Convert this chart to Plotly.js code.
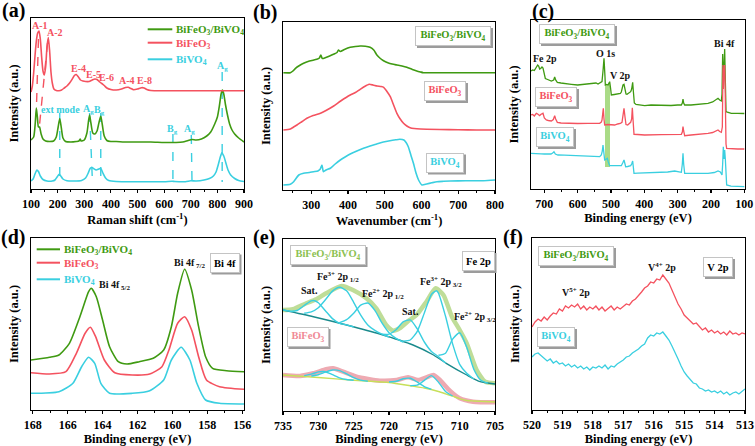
<!DOCTYPE html>
<html><head><meta charset="utf-8">
<script src="https://cdn.plot.ly/plotly-3.0.1.min.js"></script>
<style>html,body{margin:0;padding:0;background:#fff}#chart{width:755px;height:446px}</style>
</head><body><div id="chart"></div>
<script>
// ---------- (a) Raman ----------
const ramanGreenX = [100,110,116,120,124,128,132,138,145,155,170,185,195,202,208,214,220,230,250,270,280,285,288,300,310,316,320,325,332,340,348,355,362,368,375,385,400,420,450,500,550,600,630,645,670,690,705,720,740,760,775,790,800,808,814,819,824,830,838,846,855,865,880,900];
const ramanGreenY = [49,52,66,81,72,62,62,55,50,48,47.5,48,52,62,70.5,61,51,47.5,47,47.5,48,50,48,49,56,68,74,66,56,55,58,66,73,64,53,48.5,47.5,47.5,47,47,47,46.5,46.5,46.5,47,48.5,49.5,49,50,53,57,65,72,84,95,99,95,85,74,65,59,55,51,47];
const ramanRedX = [100,105,110,115,120,125,130,135,140,145,150,155,160,165,170,175,180,186,195,205,215,225,235,245,255,263,270,278,286,295,305,318,330,340,348,358,366,375,385,400,420,440,455,465,475,485,500,515,525,535,550,600,700,800,900];
const ramanRedY = [97,103,116,133,148,156,158,150,132,118,114,122,142,151.5,138,117,106,100,98.5,98.3,99,101,103,106,110,113.5,114.5,112,109,108,107.5,107.5,109,110,109.5,107,105.5,103.5,101,99.5,99,100,101.5,101.7,100.5,99.3,100,101.3,101,99.5,98.5,98.3,98.3,98.3,98.3];
const ramanBlueX = [100,108,115,122,128,135,145,160,180,190,198,206,212,220,235,260,290,305,315,322,328,335,345,355,362,370,380,392,420,500,600,630,640,680,700,720,750,770,785,795,803,810,817,824,832,840,850,865,880,900];
const ramanBlueY = [8,10,15,19,17.5,13,9.5,8,8,9,12,14.7,13,10,8.3,8,8.5,11,16,20.5,21.7,20.5,19,20,20.6,16,11,8.5,7.5,7.3,7.3,7.8,7.5,7.3,8.2,8,9,10.5,13,17,24,31,36.3,33,26,19,14,10.5,8.5,7.5];
const ramanRedGuideX = [128,120,null,162,132];
const ramanRedGuideY = [150,78,null,146,64];
const ramanCyanGuideX = [208,208,null,320,330,null,362,362,null,633,633,null,702,705,null,818,818];
const ramanCyanGuideY = [76,12,null,76,12,null,76,12,null,55,2,null,54,2,null,117,7];

// ---------- (b) UV-vis ----------
const uvGreenX = [224,243,250,257,268,279,295,315,322,326,330,338,350,362,370,374,379,390,406,420,433,447,460,470,478.5,488,496.6,510,520,533,547,560,575,587,597,605,650,700,750,800];
const uvGreenY = [117.3,117.3,119,121.7,124.5,126.7,129,130.7,132,135,131.5,132.3,134,136,137.5,140,138.5,140.5,142.7,143.5,144,143.8,142.7,140,135,131.5,129.3,127,126,125,124,122.7,120.5,119,118,117.3,117.3,117.3,117.3,117.3];
const uvRedX = [224,243,252,261,275,288,305,325,340,361,380,406,420,433,445,457.6,468,479,490,497,505,515,524,533,542,551,560,569,580,597,650,700,750,800];
const uvRedY = [60,61,63,65,68.5,71.7,74.5,76.7,79.5,84,89,95,97.5,100.7,103.5,105.7,105,104,103.5,102.7,99,93.3,85,76.7,71,66.7,64,62.3,61.5,61,60.5,60.2,60,60];
const uvBlueX = [224,243,252,266,279,295,306,318,324,329,333,340,352,365,379,392,406,424,442,460,478,496,514,530,541,552,558,564,571,578,585,592,601,614,628,642,660,678,720,768,800];
const uvBlueY = [5,5.7,8.3,15,16.7,17.5,18.3,19,20.7,25,18.3,20,21.7,26,30,33,36,39,41.7,44,46,48,49.3,50.2,50.7,50,47.5,43.3,35,26.7,17,10,5,6,7.2,8.3,8.7,9,9.2,9.3,10];

// ---------- (c) XPS survey ----------
const surveyGreenX = [740,735,730,727,724,720,717,714,711,707,704,700,697,690,684,679,672,669,666,661,650,640,630,619,600,585,569,555,545,539,530,527,524,521,518,517,513,509,506,504,501,499,490,480,472,469,464,461,458,455,452,446,441,438,435,433,430,425,410,399,380,350,320,300,289,286,284,282,279,260,240,220,209,195,185,179,174,169,167,165,163,161,159,157,155,153,145,139,120,100];
const surveyGreenY = [118,119,118.5,120,121,124,123,120,120.5,122,121,113,110.5,109.5,108.5,108,109,112,109,106.7,106,105.5,104.5,104.7,104,104.5,104.7,105.5,106,105,106.5,107.5,118,130.7,112,104,104.5,104,106,107.3,100,94,94.5,95,95.5,97,104,104.7,100,95,94.7,96,97.3,100,106.7,98,86,84.5,84,83.3,84,83.5,83.5,84,84,86,90,86,84,84,84.5,85,85.7,87,89,90.7,89,88,95,135,112,120,140,100,78,77,76,75.7,75.7,75.5];
const surveyRedX = [740,735,730,727,724,720,717,714,711,707,704,700,697,694,688,683,679,673,669,666,661,650,630,619,600,569,545,534,529,527,525,523,521,519,510,500,489,480,472,467,464,461,458,455,450,444,441,438,436,434,431,420,399,350,300,289,286,284,282,279,260,240,220,209,195,185,179,174,169,166,165,164,163,162,161,159,158,157,155,153,140,120,100];
const surveyRedY = [74,74.5,73,75,75.7,75,73.5,73.3,74.5,75,75.7,71,69.5,69,68.5,68,68,69.5,73.3,70,66.7,66,65.7,65.7,65.5,65.7,65.5,65.7,67,69,75,80.7,70,64,64.5,64,64,65,65.5,66.7,75,80.7,72,64.5,64,65.5,66.7,70,81.3,70,54.7,54.5,54,54.3,54.5,54.7,57,62.3,58,53.3,54,54.5,55,55.7,56.5,58,59,57.5,56.7,62,95,124,100,110,124,124,110,80,45,40.7,40.2,40,40];
const surveyBlueX = [740,730,720,710,700,689,680,675,671,667,659,640,620,600,580,560,545,534,529,526,524,522,519,516,513,511,508,504,490,480,469,465,461,458,456,450,441,438,435,433,431,420,400,370,349,330,309,300,289,286,284,282,279,260,240,209,190,179,172,167,165,163,161,159,157,155,153,140,120,100];
const surveyBlueY = [35.7,35.3,35,35.2,35,34.7,35,36,37.3,35,34,33.8,33.5,33.3,33,32.8,32.5,32.3,34,38,44,36,29,29.5,31,30.7,27,23.3,23.3,23.5,23.3,26,29,25,22.3,22.5,23.3,25,28,22,15.7,15.8,16,16.2,16.3,17,18,17.5,16.7,25,35.7,25,15.7,15.7,15.7,15.7,16.5,18,17,14,25,42.3,30,39,30,8,4,2.8,2.5,2.3];
const v2pBandX = [518,503,503,518,518];
const v2pBandY = [22,22,105,105,22];

// ---------- (d) Bi 4f ----------
const bi4fGreenX = [168.1,167.04,166.5,165.9,165.3,164.8,164.65,164.36,164,163.6,163.1,162.6,161.9,161.1,160.5,160.06,159.7,159.3,158.9,158.5,158.1,157.7,156.9,155.9];
const bi4fGreenY = [50,52.7,55,66.7,93.3,118.3,121.7,113.3,90,63.3,48.3,46,48.3,51.7,60,83.3,116.7,140.7,120,83.3,53.3,41.7,39.3,38.3];
const bi4fRedX = [168.1,167.04,166.1,165.5,165,164.7,164.4,163.9,163.3,162.3,161.3,160.6,160.2,159.7,159.3,158.9,158.5,158.05,157.3,155.9];
const bi4fRedY = [37.3,36,38.3,56.7,76.7,82.7,73.3,50,37.3,35,36,43.3,60,86.7,93.3,80,53.3,30,23.3,20.7];
const bi4fBlueX = [168.1,166.5,165.7,165.2,164.8,164.45,164.1,163.6,162.3,161.3,160.5,160.06,159.5,159,158.6,158.1,157.3,155.9];
const bi4fBlueY = [16.7,18.3,26.7,43.3,52.7,46.7,26.7,16.7,16.7,19.3,30,50,62.7,50,26.7,10,6.7,6];

// ---------- (e) Fe 2p ----------
const feEnvCompX = [735,733.6,731.7,730.3,728.9,726.7,725.1,723.2,721.8,720.4,719.4,718.5,717.1,716.1,714.7,713.4,712.3,711.1,710,709,707.6,706.4,705];
const feEnvCompY = [101,101.7,107.7,111.7,117.7,125,121,112.7,102.7,86,80.3,82.7,91,96,109.3,122.7,116,94.3,81,67.7,41,29.3,27.7];
const feBgCompX = [735,730.7,726,721.3,716.6,713.7,711.9,709,707.1,705];
const feBgCompY = [101,94.3,86,77,66,56,47.7,36,29.3,27];
const feSat1X = [735,734,733,732,731,730.5,730,729,728,727,726,725];
const feSat1Y = [101,99.8,100.5,105.5,110.2,110.3,108.3,100.3,92.4,87.7,86.1,84];
const fe3p12X = [732,731,730,729,728,727,726,725,724,723,722,721,720];
const fe3p12Y = [97.8,99.1,103.3,111.2,119.9,123.8,120.2,108.7,95.9,86.1,80.6,76.9,74];
const fe2p12X = [727,726,725,724,723,722,721,720,719,718];
const fe2p12Y = [88.4,91.4,97.8,105.9,108,100.6,88.1,78.3,72.6,69];
const feSat2X = [721,720,719,718,717,716,715,714,713,712];
const feSat2Y = [76.8,76.9,81.3,89.1,91.1,82.1,69,59.6,54.3,48];
const fe3p32X = [718,717,716,715,714,713.3,713,712,711,710,709,708];
const fe3p32Y = [69.9,71,79.7,98,116.5,120.3,117.9,94.7,67.1,46.7,37.8,32];
const fe2p32X = [713,712,711,710,709,708,707,706];
const fe2p32Y = [55.7,57.8,71.8,78.3,63.8,41.8,30.7,27.8];
const feEnvBfoX = [735,732.6,730.7,728.9,727.9,726.5,724.6,721.3,718.9,717.3,715.9,714.7,713.7,712.8,711.4,710,708.1,705];
const feEnvBfoY = [36,35,37.7,41.7,42.7,39.3,34.3,30.3,31,33.7,31,33.7,36,31,20.3,12.7,9.3,8.7];
const feBgBfoX = [735,730,725,720,717,715,713,712,711,710,709,708,705];
const feBgBfoY = [36,33.5,30.7,28.5,25.3,23,19.5,17.2,14.8,12.3,10.5,10,9];
const bfoPkAX = [732,731,730,729,728,727,726,725];
const bfoPkAY = [35.4,36.9,39.1,39.3,36.3,33.2,31.5,30.7];
const bfoPkBX = [731,730,729,728,727,726,725,724,723];
const bfoPkBY = [34.9,36.2,38.8,41,40.4,37.1,33.4,30.9,29.7];
const bfoPkCX = [720,719,718,717,716,715,714];
const bfoPkCY = [29,29.7,32.3,32.7,28.9,24.4,21.7];
const bfoPkDX = [717,716,715,714,713,712,711];
const bfoPkDY = [25.4,25.8,30.6,35.4,28.8,19.5,15];

// ---------- (f) V 2p ----------
const v2pX = [520.0,519.9,519.8,519.7,519.6,519.5,519.4,519.3,519.2,519.1,519.0,518.9,518.8,518.7,518.6,518.5,518.4,518.3,518.2,518.1,518.0,517.9,517.8,517.7,517.6,517.5,517.4,517.3,517.2,517.1,517.0,516.9,516.8,516.7,516.6,516.5,516.4,516.3,516.2,516.1,516.0,515.9,515.8,515.7,515.6,515.5,515.4,515.3,515.2,515.1,515.0,514.9,514.8,514.7,514.6,514.5,514.4,514.3,514.2,514.1,514.0,513.9,513.8,513.7,513.6,513.5,513.4,513.3,513.2,513.1,513.0];
const v2pCompY = [83,88,91,89,93,90,94,97,96,101,99,104,102,105,103,106,101,104,100,103,101,104,100,103,99,102,104,100,103,101,104,106,105,109,111,114,118,122,124,128,127,131,130,135,131,127,120,113,106,101,95,92,89,86,87,83,80,82,78,80,77,79,76,78,75,79,76,77,75,77,76];
const v2pBvoY = [53,56,57,54,52,49,51,47,49,46,47,44,46,43,45,42,44,41,43,40,43,42,44,42,45,41,44,43,46,48,50,53,54,57,59,61,64,66,72,75,74,77,76,78,74,70,64,58,51,44,38,34,30,27,26,22,21,19,20,18,19,17,19,16,18,15,17,18,16,19,21];

// ---------- legend entries ----------
const seriesNames = ['BiFeO<sub>3</sub>/BiVO<sub>4</sub>', 'BiFeO<sub>3</sub>', 'BiVO<sub>4</sub>'];

// ---------- style ----------
const FONT = 'Liberation Serif';
const C_GREEN = '#3f9a12', C_RED = '#f4525f', C_CYAN = '#3acfe0';
const seriesColors = [C_GREEN, C_RED, C_CYAN];
const W = 755, H = 446;
const px = v => v / W, py = v => 1 - v / H;

const traces = [];
function add(x, y, xa, ya, color, width, extra) {
  traces.push(Object.assign({type:'scatter', mode:'lines', x, y, xaxis:xa, yaxis:ya,
    line:{color, width, shape:'spline', smoothing:0.6}, showlegend:false, hoverinfo:'skip'}, extra || {}));
}
// (a)
add(ramanRedGuideX, ramanRedGuideY, 'x', 'y', C_RED, 1.4, {line:{color:C_RED, width:1.4, dash:'dash'}});
add(ramanCyanGuideX, ramanCyanGuideY, 'x', 'y', C_CYAN, 1.4, {line:{color:C_CYAN, width:1.4, dash:'dash'}});
add(ramanGreenX, ramanGreenY, 'x', 'y', C_GREEN, 1.6, {name:seriesNames[0]});
add(ramanRedX, ramanRedY, 'x', 'y', C_RED, 1.6, {name:seriesNames[1]});
add(ramanBlueX, ramanBlueY, 'x', 'y', C_CYAN, 1.6, {name:seriesNames[2]});
// (b)
add(uvGreenX, uvGreenY, 'x2', 'y2', C_GREEN, 1.6);
add(uvRedX, uvRedY, 'x2', 'y2', C_RED, 1.6);
add(uvBlueX, uvBlueY, 'x2', 'y2', C_CYAN, 1.6);
// (c)
traces.push({type:'scatter', mode:'lines', x:v2pBandX, y:v2pBandY, xaxis:'x3', yaxis:'y3', fill:'toself',
  fillcolor:'rgba(125,200,70,0.65)', line:{width:0}, showlegend:false, hoverinfo:'skip'});
add(surveyGreenX, surveyGreenY, 'x3', 'y3', C_GREEN, 1.3, {line:{color:C_GREEN, width:1.3}});
add(surveyRedX, surveyRedY, 'x3', 'y3', C_RED, 1.3, {line:{color:C_RED, width:1.3}});
add(surveyBlueX, surveyBlueY, 'x3', 'y3', C_CYAN, 1.3, {line:{color:C_CYAN, width:1.3}});
// (d)
add(bi4fGreenX, bi4fGreenY, 'x4', 'y4', C_GREEN, 1.6);
add(bi4fRedX, bi4fRedY, 'x4', 'y4', C_RED, 1.6);
add(bi4fBlueX, bi4fBlueY, 'x4', 'y4', C_CYAN, 1.6);
// (e)
add(feEnvCompX, feEnvCompY, 'x5', 'y5', '#bfdd98', 4.5);
add(feEnvBfoX, feEnvBfoY, 'x5', 'y5', '#eeaab2', 4.5);
add(feBgCompX, feBgCompY, 'x5', 'y5', '#1a8a8c', 1.4);
add(feBgBfoX, feBgBfoY, 'x5', 'y5', '#c7df5a', 1.4);
[[feSat1X,feSat1Y],[fe3p12X,fe3p12Y],[fe2p12X,fe2p12Y],[feSat2X,feSat2Y],[fe3p32X,fe3p32Y],[fe2p32X,fe2p32Y],
 [bfoPkAX,bfoPkAY],[bfoPkBX,bfoPkBY],[bfoPkCX,bfoPkCY],[bfoPkDX,bfoPkDY]].forEach(p => add(p[0], p[1], 'x5', 'y5', C_CYAN, 1.4));
// (f)
add(v2pX, v2pCompY, 'x6', 'y6', C_RED, 1.3, {line:{color:C_RED, width:1.3}});
add(v2pX, v2pBvoY, 'x6', 'y6', C_CYAN, 1.3, {line:{color:C_CYAN, width:1.3}});

// axes
const tickFont = {family:FONT, size:12, color:'#000', weight:'bold'};
const titleFont = {family:FONT, size:12.5, color:'#000', weight:'bold'};
function xa(l, r, range, dtick, title, anchor) {
  return {domain:[px(l), px(r)], range, dtick, tick0:0, anchor, showline:true, linecolor:'#000', linewidth:1.3,
    mirror:true, ticks:'outside', ticklen:3, tickwidth:1.2, tickcolor:'#000', showgrid:false, zeroline:false,
    minor:{ticks:'outside', ticklen:2, tickwidth:1, tickcolor:'#000', dtick:dtick/2},
    tickfont:tickFont, title:{text:title, font:titleFont, standoff:3}, fixedrange:true};
}
function ya(b, t, range, anchor) {
  return {domain:[py(b), py(t)], range, anchor, showline:true, linecolor:'#000', linewidth:1.3, mirror:true,
    ticks:'', showticklabels:false, showgrid:false, zeroline:false,
    title:{text:'Intensity (a.u.)', font:titleFont, standoff:8}, fixedrange:true};
}
const layout = {
  width:W, height:H, margin:{l:0, r:0, t:0, b:0}, paper_bgcolor:'#fff', plot_bgcolor:'#fff',
  font:{family:FONT, color:'#000'}, showlegend:false,
  xaxis: xa(31,244,[100,900],100,'Raman shift (cm<sup>-1</sup>)','y'),
  yaxis: ya(189,18,[0,171],'x'),
  xaxis2: xa(283,495,[223,800],100,'Wavenumber (cm<sup>-1</sup>)','y2'),
  yaxis2: ya(190,22,[0,168],'x2'),
  xaxis3: xa(531,745,[740,98],100,'Binding energy (eV)','y3'),
  yaxis3: ya(189,20,[0,169],'x3'),
  xaxis4: xa(31,244,[168.1,155.9],2,'Binding energy (eV)','y4'),
  yaxis4: ya(410,238,[0,172],'x4'),
  xaxis5: xa(283,495,[735,705],5,'Binding energy (eV)','y5'),
  yaxis5: ya(411,239,[0,172],'x5'),
  xaxis6: xa(532,745,[520,513],1,'Binding energy (eV)','y6'),
  yaxis6: ya(410,238,[0,172],'x6'),
  annotations: [], shapes: []
};
const A = layout.annotations, S = layout.shapes;
function txt(xr, yr, x, y, text, color, size) {
  A.push({xref:xr, yref:yr, x, y, xanchor:'center', yanchor:'middle', text, showarrow:false,
    font:{family:FONT, size:size||10, color:color||'#111', weight:'bold'}});
}
// framed label with a grey drop shadow (shadow drawn as a rectangle behind the label box)
function box(cx, cy, w, text, color) {
  const h = 14, pad = 2, off = 2;
  S.push({type:'rect', xref:'paper', yref:'paper', layer:'above',
    x0:px(cx - w/2 - pad - 1 + off), x1:px(cx + w/2 + pad + 1 + off),
    y0:py(cy + h/2 + pad + 1 + off), y1:py(cy - h/2 - pad - 1 + off), fillcolor:'#9c9c9c', line:{width:0}});
  A.push({xref:'paper', yref:'paper', x:px(cx), y:py(cy), xanchor:'center', yanchor:'middle', text, showarrow:false,
    width:w, height:h, bgcolor:'#fff', bordercolor:'#c4c4c4', borderwidth:1, borderpad:pad,
    font:{family:FONT, size:10.5, color, weight:'bold'}});
}
// manual legends (key line + coloured label)
function legend(x0, x1, rows) {
  rows.forEach((yy, i) => {
    S.push({type:'line', xref:'paper', yref:'paper', x0:px(x0), x1:px(x1), y0:py(yy), y1:py(yy),
      line:{color:seriesColors[i], width:2}});
    A.push({xref:'paper', yref:'paper', x:px(x1 + 2), y:py(yy + 1), xanchor:'left', yanchor:'middle',
      text:seriesNames[i], showarrow:false, font:{family:FONT, size:11, color:seriesColors[i], weight:'bold'}});
  });
}
legend(147.7, 172.3, [29.3, 42.7, 59.3]);
legend(36.7, 60, [249.3, 262.7, 279.3]);
// panel letters
[['(a)',13,11],['(b)',265,13],['(c)',543,12],['(d)',13,237],['(e)',264,237],['(f)',513,237]].forEach(p =>
  A.push({xref:'paper', yref:'paper', x:px(p[1]), y:py(p[2]), xanchor:'center', yanchor:'middle', text:p[0],
    showarrow:false, font:{family:FONT, size:20, color:'#000', weight:'bold'}}));
// (a) labels
[['A-1',134,164],['A-2',189,157],['E-4',280,120.7],['E-5',334,115],['E-6',384,111.7],['A-4',459,109],['E-8',528,109]].forEach(l => txt('x','y',l[1],l[2],l[0],C_RED,10));
[['ext mode',209,80],['A<sub>g</sub>',315,80],['B<sub>g</sub>',359,79],['B<sub>g</sub>',633,60],['A<sub>g</sub>',696,60],['A<sub>g</sub>',818,123]].forEach(l => txt('x','y',l[1],l[2],l[0],C_CYAN,10));
// (b)
box(453,36,70,seriesNames[0],C_GREEN); box(445,91,36,seriesNames[1],C_RED); box(445,162.5,32,seriesNames[2],C_CYAN);
// (c)
box(577,34,70,seriesNames[0],C_GREEN); box(556,97,36,seriesNames[1],C_RED); box(555,137,32,seriesNames[2],C_CYAN);
txt('x3','y3',699,131,'Fe 2p'); txt('x3','y3',518,136,'O 1s'); txt('x3','y3',471,114,'V 2p'); txt('x3','y3',161,146,'Bi 4f');
// (d)
box(224.5,262.5,24,'Bi 4f','#000');
txt('x4','y4',163.3,125,'Bi 4f<sub> 5/2</sub>'); txt('x4','y4',159,147,'Bi 4f<sub> 7/2</sub>');
// (e)
box(327.5,255,70,seriesNames[0],'#8cc152'); box(478,261,27,'Fe 2p','#000'); box(307.5,337,36,seriesNames[1],'#f08a96');
txt('x5','y5',731.2,121,'Sat.'); txt('x5','y5',727.2,134.3,'Fe<sup>3+</sup> 2p<sub> 1/2</sub>');
txt('x5','y5',720.8,117,'Fe<sup>2+</sup> 2p<sub> 1/2</sub>'); txt('x5','y5',717,99.3,'Sat.');
txt('x5','y5',712.7,129.3,'Fe<sup>3+</sup> 2p<sub> 3/2</sub>'); txt('x5','y5',707.8,93.7,'Fe<sup>2+</sup> 2p<sub> 3/2</sub>');
// (f)
box(576,256,70,seriesNames[0],C_GREEN); box(718,267,24,'V 2p','#000'); box(556,337,32,seriesNames[2],C_CYAN);
txt('x6','y6',518.54,118,'V<sup>5+</sup> 2p'); txt('x6','y6',515.74,143,'V<sup>4+</sup> 2p');

Plotly.newPlot('chart', traces, layout, {displayModeBar:false, staticPlot:true});
</script></body></html>
